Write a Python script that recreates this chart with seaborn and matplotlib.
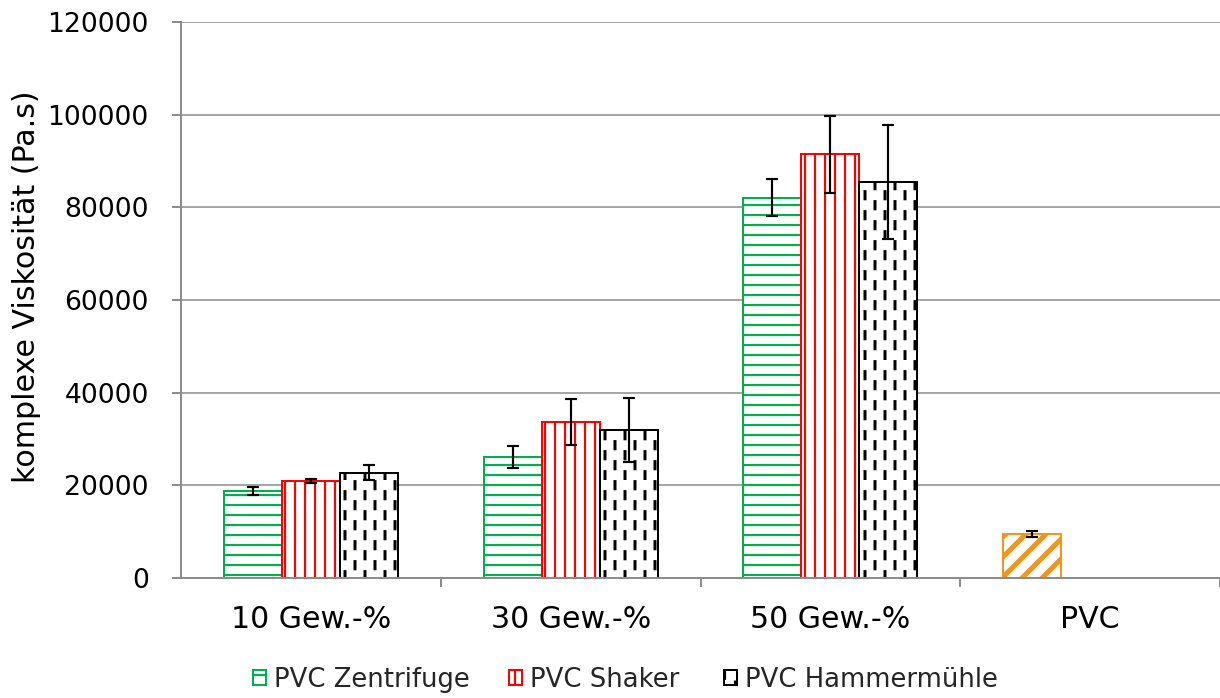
import warnings
warnings.filterwarnings("ignore")
import numpy as np
import pandas as pd
import matplotlib
matplotlib.use("Agg")
import matplotlib.pyplot as plt
import matplotlib.hatch as mhatch
from matplotlib.path import Path
import seaborn as sns

# ---------------- data ----------------
categories = ["10 Gew.-%", "30 Gew.-%", "50 Gew.-%", "PVC"]
series = ["PVC Zentrifuge", "PVC Shaker", "PVC Hammermühle"]
zentrifuge = [18800, 26100, 82100, 9500]
zentrifuge_err = [850, 2300, 4000, 600]
shaker = [21000, 33700, 91500]
shaker_err = [450, 5000, 8300]
hammer = [22700, 31900, 85500]
hammer_err = [1650, 6900, 12300]
yticks = [0, 20000, 40000, 60000, 80000, 100000, 120000]
ylabel = "komplexe Viskosität (Pa.s)"

colors = ["#00B050", "#FF0000", "#000000"]
pvc_color = "#F0961E"
hatches = ["--", "||", "d"]


# custom staggered dashed-vertical hatch ('d')
class DashedVerticalHatch(mhatch.HatchPatternBase):
    def __init__(self, hatch, density):
        n = hatch.count("d")
        self.ncols = 12 * n
        self.nrows = 6 * n
        self.dash = 0.06
        self.num_vertices = self.ncols * self.nrows * 2

    def set_vertices_and_codes(self, vertices, codes):
        k = 0
        for i in range(self.ncols):
            x = (i + 0.5) / self.ncols
            for j in range(self.nrows):
                y0 = (j + 0.5 * (i % 2)) / self.nrows + 0.01
                vertices[k] = [x, y0]
                vertices[k + 1] = [x, y0 + self.dash]
                codes[k] = Path.MOVETO
                codes[k + 1] = Path.LINETO
                k += 2


mhatch._hatch_types.append(DashedVerticalHatch)

rows = []
for vals, name in [(zentrifuge, series[0]), (shaker, series[1]), (hammer, series[2])]:
    for c, v in zip(categories, vals):
        rows.append({"Kategorie": c, "Serie": name, "Wert": v})
df = pd.DataFrame(rows)
errs = [zentrifuge_err, shaker_err, hammer_err]

sns.set_theme(style="white")
plt.rcParams["font.family"] = ["DejaVu Sans"]
plt.rcParams["hatch.linewidth"] = 1.3

fig = plt.figure(figsize=(1220 / 120, 698 / 120), dpi=120)
ax = fig.add_axes([0.1484, 0.1719, 0.8516, 0.7966])

sns.barplot(data=df, x="Kategorie", y="Wert", hue="Serie", order=categories,
            hue_order=series, palette=colors, width=0.67, errorbar=None,
            legend=False, saturation=1, gap=0, ax=ax)

bar_containers = list(ax.containers)
for i, cont in enumerate(bar_containers):
    xs, hs = [], []
    for j, bar in enumerate(cont):
        bar.set_facecolor("white")
        bar.set_edgecolor(colors[i])
        bar.set_linewidth(1.2)
        bar.set_hatch(hatches[i])
        if i == 0 and j == len(cont) - 1:
            bar.set_edgecolor(pvc_color)
            bar.set_hatch("//")
            if hasattr(bar, "set_hatch_linewidth"):
                bar.set_hatch_linewidth(3.0)
        elif i == 2 and hasattr(bar, "set_hatch_linewidth"):
            bar.set_hatch_linewidth(1.8)
        xs.append(bar.get_x() + bar.get_width() / 2)
        hs.append(bar.get_height())
    ax.errorbar(xs, hs, yerr=errs[i][:len(xs)], fmt="none", ecolor="black",
                elinewidth=1.3, capsize=3.6, capthick=1.3, zorder=5)

ax.set_xlim(-0.5, 3.5)
ax.set_ylim(0, 120000)
ax.set_yticks(yticks)
ax.set_yticklabels([str(t) for t in yticks])
ax.grid(axis="y", color="#A6A6A6", lw=1.2)
ax.grid(axis="x", visible=False)
ax.set_axisbelow(True)
for s in ["top", "right"]:
    ax.spines[s].set_visible(False)
for s in ["left", "bottom"]:
    ax.spines[s].set_color("#8C8C8C")
    ax.spines[s].set_linewidth(1.2)
ax.tick_params(axis="y", which="major", left=True, length=5.4, width=1.2,
               color="#8C8C8C", labelsize=16, pad=14, labelcolor="black")
ax.tick_params(axis="x", which="major", bottom=False, length=0, labelsize=18,
               pad=16, labelcolor="black")
ax.set_xticks([0.5, 1.5, 2.5, 3.5], minor=True)
ax.tick_params(axis="x", which="minor", bottom=True, length=5.4, width=1.2,
               color="#8C8C8C")
ax.set_xlabel("")
ax.set_ylabel(ylabel, fontsize=18, labelpad=10, color="black")
ax.yaxis.set_label_coords(-0.135, 0.523)

# legend entries placed like the reference
legend_x = [0.2074, 0.4172, 0.5934]
for cont, name, lx in zip(bar_containers, series, legend_x):
    fig.legend(handles=[cont[0]], labels=[name], loc="center left",
               bbox_to_anchor=(lx, 0.026), frameon=False, fontsize=15.5,
               handlelength=0.5, handleheight=0.5, handletextpad=0.3,
               borderpad=0, borderaxespad=0)

fig.savefig("out.png", dpi=120)
